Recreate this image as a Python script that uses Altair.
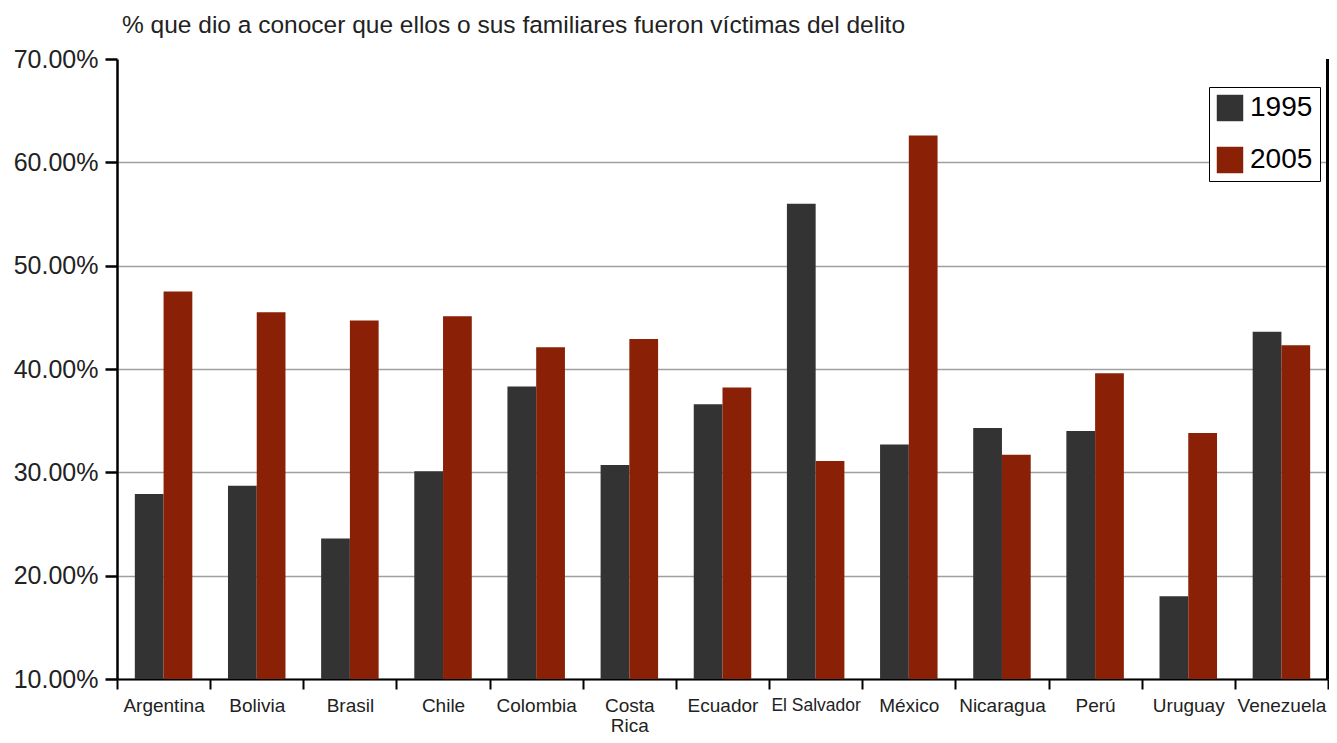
import altair as alt
import pandas as pd

countries = ["Argentina", "Bolivia", "Brasil", "Chile", "Colombia", "Costa Rica",
             "Ecuador", "El Salvador", "México", "Nicaragua", "Perú", "Uruguay", "Venezuela"]
v1995 = [27.9, 28.7, 23.6, 30.1, 38.3, 30.7, 36.6, 56.0, 32.7, 34.3, 34.0, 18.0, 43.6]
v2005 = [47.5, 45.5, 44.7, 45.1, 42.1, 42.9, 38.2, 31.1, 62.6, 31.7, 39.6, 33.8, 42.3]
years = ["1995", "2005"]
colors = ["#333333", "#8a2005"]
y_ticks = [10, 20, 30, 40, 50, 60, 70]
title_text = "% que dio a conocer que ellos o sus familiares fueron víctimas del delito"

rows = []
for c, a, b in zip(countries, v1995, v2005):
    rows.append({"pais": c, "anio": "1995", "valor": a})
    rows.append({"pais": c, "anio": "2005", "valor": b})
df = pd.DataFrame(rows)

FONT = "Liberation Sans"
W = 1211
H = 620

bars = alt.Chart(df).mark_bar(clip=True).encode(
    x=alt.X("pais:N", sort=countries, title=None,
            scale=alt.Scale(paddingInner=0, paddingOuter=0),
            axis=alt.Axis(
                grid=False,
                labelAngle=0, tickBand="extent", tickSize=10, tickWidth=2,
                tickColor="black", domainColor="black", domainWidth=2,
                labelFont=FONT,
                labelFontSize=alt.condition("datum.value == 'El Salvador'", alt.value(17.5), alt.value(19)),
                labelColor="#222222", labelPadding=7, labelLimit=200,
                labelExpr="datum.value == 'Costa Rica' ? ['Costa', 'Rica'] : datum.value",
                labelLineHeight=20.5)),
    xOffset=alt.XOffset("anio:N", scale=alt.Scale(paddingInner=0, paddingOuter=0.62)),
    y=alt.Y("valor:Q", title=None,
            scale=alt.Scale(domain=[10, 70], nice=False, zero=False),
            axis=alt.Axis(values=y_ticks, grid=True, gridColor="#a0a0a0", gridWidth=1.5,
                          gridOpacity=alt.condition("datum.value == 70", alt.value(0), alt.value(1)),
                          domainColor="black", domainWidth=2.5, tickColor="black",
                          tickWidth=2.5, tickSize=12, labelPadding=7,
                          labelFont=FONT, labelFontSize=25, labelColor="#222222",
                          labelExpr="format(datum.value, '.2f') + '%'")),
    color=alt.Color("anio:N", scale=alt.Scale(domain=years, range=colors), title=None,
                    legend=alt.Legend(orient="none", legendX=1092, legendY=28,
                                      strokeColor="black", fillColor="white", padding=7,
                                      symbolType="square", symbolSize=700, symbolStrokeWidth=0,
                                      labelFont=FONT, labelFontSize=28, labelColor="black",
                                      rowPadding=24, labelOffset=6)),
)

right_border = alt.Chart(df).mark_rule(color="black", strokeWidth=2.5).encode(
    x=alt.value(W), y=alt.value(0), y2=alt.value(H))

chart = alt.layer(bars, right_border).properties(
    width=W, height=H,
    autosize=alt.AutoSizeParams(type="none"),
    padding={"left": 109, "top": 51, "right": 1, "bottom": 56},
    title=alt.TitleParams(title_text, anchor="start", frame="group", dx=5, offset=9,
                          font=FONT, fontSize=24.5, fontWeight="normal", color="#222222"),
).configure_view(stroke=None)

chart.save("out.html", embed_options={"renderer": "svg", "actions": False})
